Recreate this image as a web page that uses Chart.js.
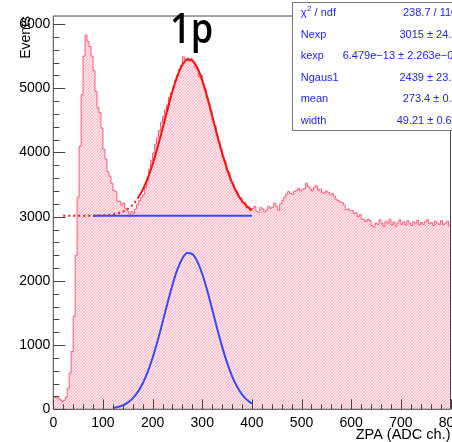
<!DOCTYPE html>
<html><head><meta charset="utf-8">
<script src="https://cdn.jsdelivr.net/npm/chart.js@4/dist/chart.umd.min.js"></script>
<style>html,body{margin:0;padding:0;background:#fff;overflow:hidden}#wrap{width:452px;height:442px;position:relative}</style>
</head><body><div id="wrap"><canvas id="c" width="452" height="442"></canvas></div>
<script>
// ---------- data ----------
const binWidth = 4; // ADC channels per bin, bins start at 0
const counts = [
 190,180,175,150,120,140,190,330,560,900,
 1450,2400,3300,4100,4900,5500,5830,5730,5650,5500,
 5280,4950,4700,4620,4380,4050,3900,3700,3630,3520,
 3410,3390,3230,3240,3180,3210,3130,3090,3000,3080,
 3050,3120,3190,3250,3300,3340,3450,3560,3740,3880,
 3990,4130,4230,4340,4470,4560,4660,4740,4860,4930,
 5010,5120,5200,5290,5350,5490,5450,5470,5420,5460,
 5400,5330,5300,5180,5200,5060,4990,4850,4760,4640,
 4480,4410,4260,4170,4060,3930,3870,3720,3690,3560,
 3520,3420,3390,3300,3290,3210,3220,3140,3150,3090,
 3130,3160,3080,3070,3140,3120,3070,3100,3160,3130,
 3150,3210,3160,3100,3200,3250,3300,3350,3390,3360,
 3350,3390,3410,3440,3400,3420,3440,3520,3470,3430,
 3400,3460,3480,3410,3430,3380,3370,3400,3380,3340,
 3360,3320,3270,3250,3230,3220,3180,3110,3120,3090,
 3100,3050,3060,3000,3030,2960,2950,2920,2960,2940,
 2860,2840,2900,2880,2950,2900,2850,2930,2890,2960,
 2870,2920,2850,2900,2950,2880,2920,2870,2940,2900,
 2860,2920,2890,2940,2870,2910,2880,2920,2950,2890,
 2910,2860,2930,2900,2880,2940,2870,2900,2930,2860
];
const xTicks = [0,100,200,300,400,500,600,700,800];
const yTicks = [0,1000,2000,3000,4000,5000,6000];
// total fit (solid part)
const fitX = [170,180,190,200,210,220,230,240,250,260,270,280,290,300,310,320,330,340,350,360,370,380,390,400];
const fitY = [3283,3417,3595,3817,4079,4369,4668,4952,5193,5365,5448,5432,5319,5122,4864,4572,4274,3991,3741,3533,3370,3248,3162,3104];
// total fit (dotted part)
const dotX = [20,60,100,120,130,140,150,160,170];
const dotY = [3015,3015,3020,3034,3050,3077,3120,3186,3283];
// background component
const bkgX = [80,400];
const bkgY = [3015,3015];
// gaussian component
const gauX = [120,130,140,150,160,170,180,190,200,210,220,230,240,250,260,270,280,290,300,310,320,330,340,350,360,370,380,390,400];
const gauY = [19,35,62,105,171,268,402,580,802,1064,1354,1653,1937,2178,2350,2433,2417,2304,2107,1849,1557,1259,976,726,518,355,233,147,89];
const statNames = ['ndf', 'Nexp', 'kexp', 'Ngaus1', 'mean', 'width'];
const statValues = ['238.7 / 110', '3015 \u00b1 24.7', '6.479e\u221213 \u00b1 2.263e\u221206', '2439 \u00b1 23.6', '273.4 \u00b1 0.3', '49.21 \u00b1 0.60'];
const labelText = '1p';
const xTitle = 'ZPA (ADC ch.)';
const yTitle = 'Events';

// ---------- build ----------
const toPts = (xs, ys) => xs.map((x, i) => ({x, y: ys[i]}));
const histPts = counts.map((v, i) => ({x: i * binWidth, y: v}));
histPts.push({x: counts.length * binWidth, y: counts[counts.length - 1]});

const canvas = document.getElementById('c');
const mainCtx = canvas.getContext('2d');
function hatch() {
  const n = 3;
  const t = document.createElement('canvas'); t.width = n; t.height = n;
  const g = t.getContext('2d');
  g.fillStyle = '#ffe3e8'; g.fillRect(0, 0, n, n);
  g.fillStyle = '#ffb3c1';
  for (let i = 0; i < n; i++) g.fillRect(i, n - 1 - i, 1, 1);
  return mainCtx.createPattern(t, 'repeat');
}

const axisColor = '#444';
const decor = {
  id: 'decor',
  afterDatasetsDraw(chart) {
    const {ctx, chartArea: a, scales: {x, y}} = chart;
    ctx.save();
    ctx.strokeStyle = axisColor; ctx.lineWidth = 1;
    ctx.beginPath();
    ctx.moveTo(a.left, a.bottom); ctx.lineTo(a.right, a.bottom);
    ctx.moveTo(a.left, a.bottom); ctx.lineTo(a.left, a.top);
    ctx.lineTo(a.right, a.top); ctx.lineTo(a.right, a.bottom);
    for (let v = 0; v <= 800; v += 20) {
      const px = Math.round(x.getPixelForValue(v)) + 0.5;
      const len = (v % 100 === 0) ? 10 : 5;
      ctx.moveTo(px, a.bottom); ctx.lineTo(px, a.bottom - len);
    }
    for (let v = 0; v <= y.max; v += 200) {
      const py = Math.round(y.getPixelForValue(v)) + 0.5;
      const len = (v % 1000 === 0) ? 12 : 6;
      ctx.moveTo(a.left, py); ctx.lineTo(a.left + len, py);
    }
    ctx.stroke();
    ctx.restore();
  },
  afterDraw(chart) {
    const {ctx} = chart;
    ctx.save();
    ctx.fillStyle = '#000';
    ctx.font = '600 41px "Open Sans"';
    ctx.textBaseline = 'alphabetic';
    ctx.translate(170, 43); ctx.scale(0.88, 1);
    ctx.fillText(labelText, 0, 0);
    ctx.restore();
    ctx.save();
    ctx.fillStyle = '#fff';
    ctx.fillRect(292.5, 2.5, 170, 128);
    ctx.strokeStyle = '#777'; ctx.lineWidth = 1;
    ctx.strokeRect(292.5, 2.5, 170, 128);
    ctx.fillStyle = '#2222ff';
    ctx.textBaseline = 'middle';
    const rowsY = [13, 34.5, 56, 77.5, 99, 120.5];
    const valX = [403, 399.5, 342.7, 399.5, 402.7, 396.7];
    statNames.forEach((n, i) => {
      ctx.font = '11px "Liberation Sans"';
      ctx.textAlign = 'left';
      if (i === 0) {
        ctx.fillText('\u03c7', 300.7, rowsY[i]);
        const w = ctx.measureText('\u03c7').width;
        ctx.font = '8px "Liberation Sans"';
        ctx.fillText('2', 300.7 + w + 0.5, rowsY[i] - 4);
        ctx.font = '11px "Liberation Sans"';
        ctx.fillText(' / ' + n, 300.7 + w + 5, rowsY[i]);
      } else {
        ctx.fillText(n, 300.7, rowsY[i]);
      }
      ctx.fillText(statValues[i], valX[i], rowsY[i]);
    });
    ctx.restore();
  }
};

new Chart(canvas, {
  type: 'line',
  data: {
    datasets: [
      {order: 5, data: histPts, stepped: 'before', borderColor: '#ff5a78', borderWidth: 1, backgroundColor: hatch(), fill: 'origin', pointRadius: 0},
      {order: 4, data: toPts(dotX, dotY), borderColor: '#ff1010', borderWidth: 2, borderDash: [2, 3], fill: false, pointRadius: 0, cubicInterpolationMode: 'monotone'},
      {order: 3, data: toPts(fitX, fitY), borderColor: '#ff1010', borderWidth: 2, fill: false, pointRadius: 0, cubicInterpolationMode: 'monotone'},
      {order: 2, data: toPts(bkgX, bkgY), borderColor: '#2f4cff', borderWidth: 2, fill: false, pointRadius: 0},
      {order: 1, data: toPts(gauX, gauY), borderColor: '#2f4cff', borderWidth: 2, fill: false, pointRadius: 0, cubicInterpolationMode: 'monotone'}
    ]
  },
  options: {
    responsive: false, animation: false, devicePixelRatio: 1,
    layout: {padding: {top: 16, right: 1.5, left: 0, bottom: 0}},
    plugins: {legend: {display: false}, tooltip: {enabled: false}},
    scales: {
      x: {
        type: 'linear', min: 0, max: 800,
        grid: {display: false, drawTicks: false}, border: {display: false},
        afterBuildTicks: s => { s.ticks = xTicks.map(v => ({value: v})); },
        afterFit: s => { s.height = 32.7; s.paddingLeft = 0; s.paddingRight = 0; },
        ticks: {padding: 5, color: '#000', font: {family: 'Liberation Sans', size: 14}, maxRotation: 0, autoSkip: false, callback: v => String(v)},
        title: {display: true, text: xTitle, align: 'end', color: '#000', font: {family: 'Liberation Sans', size: 14.5, lineHeight: 1}, padding: {top: 0, bottom: 0}}
      },
      y: {
        min: 0, max: 6125,
        grid: {display: false, drawTicks: false}, border: {display: false},
        afterBuildTicks: s => { s.ticks = yTicks.map(v => ({value: v})); },
        afterFit: s => { s.width = 53.3; s.paddingTop = 0; s.paddingBottom = 0; },
        ticks: {padding: 3, color: '#000', font: {family: 'Liberation Sans', size: 14}, autoSkip: false, callback: v => String(v)},
        title: {display: true, text: yTitle, align: 'end', color: '#000', font: {family: 'Liberation Sans', size: 14, lineHeight: 1.2}, padding: {top: 18, bottom: 0}}
      }
    }
  },
  plugins: [decor]
});
</script></body></html>
